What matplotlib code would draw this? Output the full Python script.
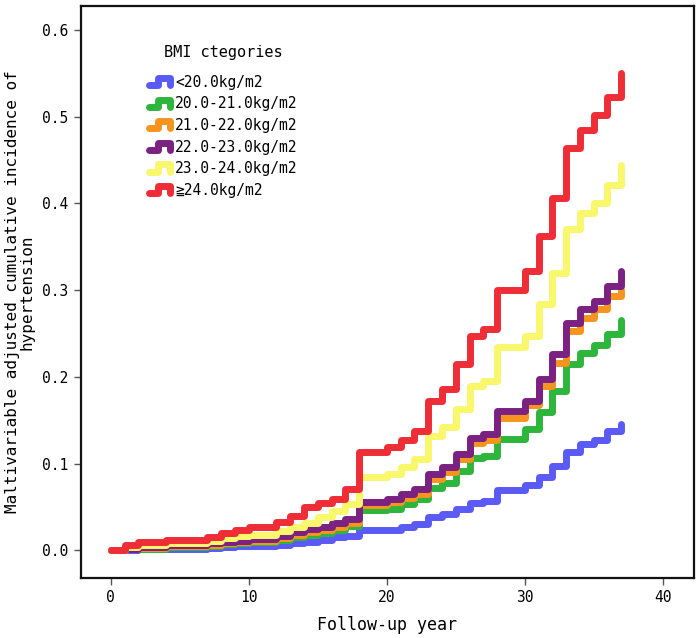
import matplotlib
matplotlib.use("Agg")
import matplotlib.pyplot as plt
from matplotlib.legend_handler import HandlerLine2D
from matplotlib.lines import Line2D

years = [0, 1, 2, 4, 7, 8, 9, 10, 12, 13, 14, 15, 16, 17, 18, 20, 21, 22, 23, 24,
         25, 26, 27, 28, 30, 31, 32, 33, 34, 35, 36, 37]

bmi_lt20 = [0.0, 0.0005, 0.001, 0.002, 0.003, 0.004, 0.005, 0.0055, 0.006, 0.0085, 0.010,
            0.012, 0.015, 0.017, 0.023, 0.0235, 0.027, 0.030, 0.038, 0.042,
            0.048, 0.054, 0.057, 0.069, 0.075, 0.084, 0.097, 0.113, 0.122, 0.127, 0.138, 0.146]
bmi_20_21 = [0.0, 0.001, 0.002, 0.004, 0.0055, 0.007, 0.008, 0.009, 0.012, 0.015, 0.018,
             0.020, 0.023, 0.028, 0.046, 0.048, 0.053, 0.059, 0.072, 0.078,
             0.091, 0.106, 0.109, 0.128, 0.140, 0.160, 0.184, 0.215, 0.228, 0.237, 0.250, 0.266]
bmi_21_22 = [0.0, 0.0015, 0.003, 0.005, 0.006, 0.008, 0.009, 0.011, 0.014, 0.018, 0.021,
             0.023, 0.027, 0.032, 0.052, 0.0555, 0.060, 0.065, 0.082, 0.090,
             0.105, 0.124, 0.127, 0.153, 0.167, 0.190, 0.216, 0.253, 0.268, 0.278, 0.293, 0.300]
bmi_22_23 = [0.0, 0.002, 0.004, 0.006, 0.008, 0.009, 0.011, 0.013, 0.017, 0.021, 0.024,
             0.027, 0.031, 0.036, 0.0555, 0.059, 0.065, 0.071, 0.088, 0.096,
             0.111, 0.130, 0.134, 0.161, 0.172, 0.197, 0.226, 0.262, 0.278, 0.288, 0.305, 0.322]
bmi_23_24 = [0.0, 0.004, 0.006, 0.008, 0.011, 0.014, 0.0165, 0.018, 0.022, 0.027, 0.032,
             0.038, 0.045, 0.053, 0.084, 0.088, 0.096, 0.105, 0.132, 0.142,
             0.163, 0.190, 0.195, 0.234, 0.247, 0.284, 0.320, 0.370, 0.389, 0.400, 0.421, 0.444]
bmi_ge24 = [0.0, 0.006, 0.009, 0.0115, 0.0153, 0.020, 0.023, 0.027, 0.033, 0.039, 0.050,
            0.054, 0.059, 0.071, 0.113, 0.119, 0.127, 0.138, 0.172, 0.186,
            0.215, 0.247, 0.255, 0.300, 0.322, 0.362, 0.406, 0.464, 0.485, 0.502, 0.523, 0.550]

labels = ["<20.0kg/m2", "20.0-21.0kg/m2", "21.0-22.0kg/m2",
          "22.0-23.0kg/m2", "23.0-24.0kg/m2", "≧24.0kg/m2"]
colors = ["#5A5AF6", "#2DB53C", "#F7941E", "#7A2182", "#F9F76C", "#EE2D37"]
series = [bmi_lt20, bmi_20_21, bmi_21_22, bmi_22_23, bmi_23_24, bmi_ge24]
xticks = [0, 10, 20, 30, 40]
yticks = [0.0, 0.1, 0.2, 0.3, 0.4, 0.5, 0.6]

FONT = ["DejaVu Sans Mono", "Noto Sans CJK JP", "DejaVu Sans"]
plt.rcParams['font.family'] = FONT


class StepHandler(HandlerLine2D):
    def create_artists(self, legend, orig_handle, xdescent, ydescent, width, height,
                       fontsize, trans):
        x0 = -xdescent
        y0 = -ydescent
        lo = y0 + height * 0.15
        hi = y0 + height * 0.85
        xs = [x0, x0 + 0.35 * width, x0 + 0.35 * width, x0 + 0.85 * width, x0 + 0.85 * width]
        ys = [lo, lo, hi, hi, lo]
        ln = Line2D(xs, ys, color=orig_handle.get_color(), lw=orig_handle.get_linewidth(),
                    solid_capstyle='round', solid_joinstyle='round', transform=trans)
        return [ln]


fig = plt.figure(figsize=(7.0, 6.38), dpi=100)
ax = fig.add_axes([0.115, 0.094, 0.877, 0.897])

handles = []
for vals, lab, col in zip(series, labels, colors):
    ln, = ax.step(years, vals, where='post', color=col, lw=5.0,
                  solid_capstyle='round', solid_joinstyle='round', label=lab)
    handles.append(ln)

ax.set_xlim(-2.2, 42.3)
ax.set_ylim(-0.032, 0.628)
ax.set_xticks(xticks)
ax.set_yticks(yticks)
ax.set_yticklabels([f"{v:.1f}" for v in yticks])
ax.tick_params(direction='out', length=5, width=1, labelsize=10.5, color='#555555')
for sp in ax.spines.values():
    sp.set_linewidth(1.6)
    sp.set_color('#111111')

ax.set_xlabel("Follow-up year", fontsize=12, labelpad=8)
ax.set_ylabel("Maltivariable adjusted cumulative incidence of\nhypertension",
              fontsize=11.5, labelpad=6, linespacing=0.95)

leg = ax.legend(handles=handles, labels=labels, title="BMI ctegories",
                loc='upper left', bbox_to_anchor=(0.09, 0.955), frameon=False,
                fontsize=10.5, title_fontsize=11, handlelength=1.7, handletextpad=0.1,
                labelspacing=0.45, handler_map={Line2D: StepHandler()})
leg._legend_box.align = "left"
leg._legend_box.sep = 11
leg.get_title().set_position((15, 0))

fig.savefig("out.png", dpi=100)
